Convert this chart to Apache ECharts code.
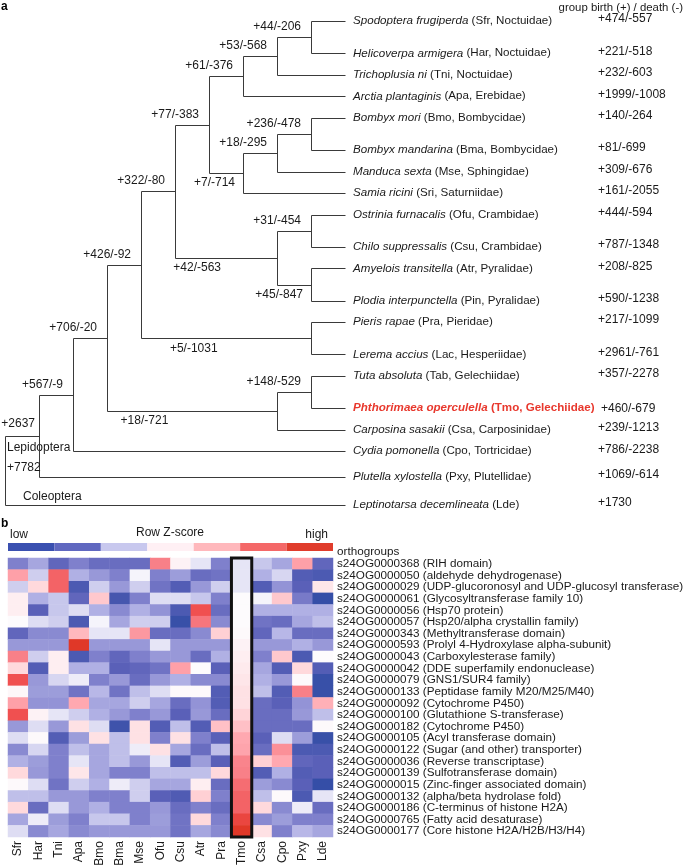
<!DOCTYPE html>
<html><head><meta charset="utf-8">
<script src="https://cdn.jsdelivr.net/npm/echarts/dist/echarts.min.js"></script>
<style>html,body{margin:0;padding:0;background:#fff}#c{width:685px;height:867px}</style>
</head><body><div id="c"></div>
<script>
// ---------------- DATA: panel a (tree) ----------------
const leafCodes = ['Sfr','Har','Tni','Apa','Bmo','Bma','Mse','Sri','Ofu','Csu','Atr','Pin','Pra','Lac','Tab','Tmo','Csa','Cpo','Pxy','Lde'];
const leafBinomials = ['Spodoptera frugiperda','Helicoverpa armigera','Trichoplusia ni','Arctia plantaginis','Bombyx mori','Bombyx mandarina','Manduca sexta','Samia ricini','Ostrinia furnacalis','Chilo suppressalis','Amyelois transitella','Plodia interpunctella','Pieris rapae','Lerema accius','Tuta absoluta','Phthorimaea operculella','Carposina sasakii','Cydia pomonella','Plutella xylostella','Leptinotarsa decemlineata'];
const leafFamilies = ['Noctuidae','Noctuidae','Noctuidae','Erebidae','Bombycidae','Bombycidae','Sphingidae','Saturniidae','Crambidae','Crambidae','Pyralidae','Pyralidae','Pieridae','Hesperiidae','Gelechiidae','Gelechiidae','Carposinidae','Tortricidae','Plutellidae',null];
const leafGainLoss = ['+474/-557','+221/-518','+232/-603','+1999/-1008','+140/-264','+81/-699','+309/-676','+161/-2055','+444/-594','+787/-1348','+208/-825','+590/-1238','+217/-1099','+2961/-761','+357/-2278','+460/-679','+239/-1213','+786/-2238','+1069/-614','+1730'];
const focusLeaf = 'Tmo';

const nodeIds      = ['root','Lepi','A','B','C','D','E','N1','N2','N3','BO','BO2','BO3','PY','CR','PYR','PL','G','GE'];
const nodeDepths   = [0,1,2,3,4,5,6,7,8,9,7,8,9,8,9,9,9,8,9];
const nodeChildren = [['Lepi','Lde'],['A','Pxy'],['B','Cpo'],['C','G'],['D','PL'],['E','PY'],['N1','BO'],['N2','Apa'],['N3','Tni'],['Sfr','Har'],['BO2','Sri'],['BO3','Mse'],['Bmo','Bma'],['CR','PYR'],['Ofu','Csu'],['Atr','Pin'],['Pra','Lac'],['GE','Csa'],['Tab','Tmo']];
const nodeGainLoss = ['+7782','+2637','+567/-9','+706/-20','+426/-92','+322/-80','+77/-383','+61/-376','+53/-568','+44/-206','+7/-714','+18/-295','+236/-478','+42/-563','+31/-454','+45/-847','+5/-1031','+18/-721','+148/-529'];
const leafDepth = 10;

// ---------------- DATA: panel b (heatmap) ----------------
const heatCols = ['Sfr','Har','Tni','Apa','Bmo','Bma','Mse','Ofu','Csu','Atr','Pra','Tmo','Csa','Cpo','Pxy','Lde'];
const ogIds = ['s24OG0000368','s24OG0000050','s24OG0000029','s24OG0000061','s24OG0000056','s24OG0000057','s24OG0000343','s24OG0000593','s24OG0000043','s24OG0000042','s24OG0000079','s24OG0000133','s24OG0000092','s24OG0000100','s24OG0000182','s24OG0000105','s24OG0000122','s24OG0000036','s24OG0000139','s24OG0000015','s24OG0000132','s24OG0000186','s24OG0000765','s24OG0000177'];
const ogDesc = ['RIH domain','aldehyde dehydrogenase','UDP-glucoronosyl and UDP-glucosyl transferase','Glycosyltransferase family 10','Hsp70 protein','Hsp20/alpha crystallin family','Methyltransferase domain','Prolyl 4-Hydroxylase alpha-subunit','Carboxylesterase family','DDE superfamily endonuclease','GNS1/SUR4 family','Peptidase family M20/M25/M40','Cytochrome P450','Glutathione S-transferase','Cytochrome P450','Acyl transferase domain','Sugar (and other) transporter','Reverse transcriptase','Sulfotransferase domain','Zinc-finger associated domain','alpha/beta hydrolase fold','C-terminus of histone H2A','Fatty acid desaturase','Core histone H2A/H2B/H3/H4'];
const zScores = [
 [-1,-0.6,-1.4,-1,-1.3,-1.3,-1.3,1.5,0.1,-0.15,-1,-0.15,-0.35,-0.6,1.1,-1.4],
 [1.1,-0.3,1.8,-0.5,-0.75,-1.0,-0.05,-1,-0.7,-1.3,-1.2,-0.15,-0.5,-0.25,-1.6,-1.7],
 [-0.3,0.4,1.8,-1.7,-0.3,-0.75,-0.3,-1.2,-1.6,-0.75,-0.3,-0.15,-1.6,-0.8,-1.5,0.25],
 [0.15,-0.5,-0.35,-1.4,0.6,-1.8,-1.0,-0.2,-0.2,-0.35,-1.0,0,-0.05,0.6,-1.1,-2.1],
 [0.15,-1.5,-0.35,-0.2,-0.5,-0.9,-0.5,-0.8,-1.7,2.0,-1.3,0,-0.5,-0.5,-0.5,-0.5],
 [0,-0.2,-0.3,-1.7,-0.05,-0.6,-0.3,-0.3,-2.0,1.6,-0.9,0,-1.2,-1.3,-0.6,-0.4],
 [-1.4,-0.9,-0.9,0.8,-0.15,-0.15,1.2,-1.3,-1.3,-0.9,0.5,0.02,-1.4,-0.45,-1.3,-1.3],
 [-0.75,-0.75,-0.75,2.6,-0.75,-0.75,-0.75,-0.15,-0.75,-0.75,-0.75,0.1,-0.75,-0.75,-0.5,-0.75],
 [1.5,-0.3,0.15,-1.7,-1.0,-1.4,-1.0,-0.75,-0.75,-1.3,-0.5,0.15,-1.0,0.6,-1.7,0],
 [0.4,-1.6,0.15,-0.5,-0.5,-1.5,-1.4,-1.2,1.1,0,-1.5,0.2,-0.6,-1.6,0.4,-1.6],
 [2.0,-0.75,-0.25,-0.1,-1.0,-0.75,-1.3,-0.75,-0.5,-0.9,-0.9,0.25,-0.5,-0.75,0.02,-2.0],
 [0.05,-0.7,-0.7,-1.2,-0.45,-1.2,-0.4,-0.2,0.02,0.02,-1.6,0.3,-0.4,-1.6,1.5,-2.0],
 [1.1,-0.8,-0.8,1.0,-0.6,-0.6,-0.3,-0.6,-1.3,-0.8,-1.6,0.3,-1.3,-1.5,-0.8,0.9],
 [2.0,0.1,-0.15,-0.3,-0.5,-0.75,-1.0,-0.75,-1.5,-0.75,-1.3,0.45,-1.3,-1.3,-0.75,-0.4],
 [-0.75,-0.2,-0.75,0.3,-0.2,-1.9,0.3,-1.6,-0.4,-1.6,0.7,0.7,-1.3,-1.3,-1.3,0.02],
 [-0.2,0.02,-1.6,-0.7,0.3,-0.4,0.3,-1.0,0.3,-1.0,-1.5,1.0,-1.5,-0.2,-0.7,-2.0],
 [-0.9,-0.25,-1.0,-0.4,-0.6,-0.4,-0.1,0.3,-0.6,-1.3,-0.4,1.05,-1.3,1.3,-1.7,-1.7],
 [-0.5,-0.7,-1.0,-0.15,-0.6,-0.4,-0.75,-0.15,-1.6,-0.7,-1.5,1.45,0.5,1.0,-1.4,-1.5],
 [0.4,-0.75,-1.0,0.25,-0.6,-1.0,-1.0,-0.4,-0.4,-0.4,0.4,1.5,-1.6,-0.5,-1.6,-1.5],
 [0.02,-0.2,-1.2,-0.3,-0.5,-0.1,-0.3,-0.6,-0.6,0.15,-1.3,1.7,-0.7,-0.9,-1.5,-2.1],
 [-0.4,-0.4,-0.75,-0.75,-1.0,-1.0,-0.3,-1.5,-1.65,0.5,-1.0,1.8,-0.4,0.02,-1.7,-0.15],
 [0.4,-1.3,-0.2,-0.75,-0.5,-1.0,-1.0,-0.75,-1.3,-1.0,-1.3,1.8,0.4,-0.9,-0.1,-1.3],
 [-0.6,-0.1,-0.7,-1.0,-0.35,-0.35,-1.0,-0.7,-1.2,0.4,-1.0,2.2,-0.9,-0.7,-1.0,-1.0],
 [-0.2,-0.9,-0.6,-0.9,-0.75,-0.75,-0.75,-0.75,-1.2,-0.6,-0.9,2.6,0.3,-1.0,-0.45,-0.6]
];
const zLegendColors = ['#3a50b0','#6068c0','#c8c8ee','#fff0f4','#ffb8bc','#f46868','#e03c2c'];
const zRampColors = ['#2a48a4','#3850a8','#5a60b8','#7f80cc','#b0b0e4','#fdfbfd','#ffd0d4','#ffa8b0','#f88088','#f05050','#e03828'];

// ---------------- LAYOUT / STYLE ----------------
const FONT = '"Liberation Sans", Arial, sans-serif';
const TXT = '#1a1a1a';
const LINE = '#3a3a3a';
const SPECIES_FS = 11.6, ROW_FS = 11.7, NUM_FS = 12;
const nodeLabelLayout = {
  root: {align:'left', dx:2, dy:-3},
  Lepi: {align:'right', dx:-4, dy:-12},
  BO:   {align:'right', dx:-8, dy:10},
  PYR:  {align:'right', dx:-8, dy:10},
  PY:   {at:4.95, dy:10},
  PL:   {at:4.85, dy:10},
  G:    {at:3.4, dy:10}
};
const defaultNodeLabel = {align:'right', dx:-10, dy:-10};

// ---------------- TREE LAYOUT ----------------
const parentOf = {}, depthOf = {};
nodeIds.forEach((id, i) => { depthOf[id] = nodeDepths[i]; nodeChildren[i].forEach(c => parentOf[c] = id); });
const pos = {};
let yAcc = 0;
leafCodes.forEach((c, i) => {
  if (i > 0) {
    const p = parentOf[c];
    if (parentOf[leafCodes[i-1]] === p) yAcc += 1.5;
    else if (depthOf[p] <= 1) yAcc += 1.3 - 0.1 * depthOf[p];
    else yAcc += 1;
  }
  pos[c] = [leafDepth, yAcc];
});
const yMax = yAcc;
function place(id) {
  if (pos[id]) return pos[id];
  const i = nodeIds.indexOf(id);
  const ch = nodeChildren[i].map(place);
  pos[id] = [nodeDepths[i], (ch[0][1] + ch[ch.length-1][1]) / 2];
  return pos[id];
}
place('root');
const segments = [];
nodeIds.forEach((id, i) => {
  const d = nodeDepths[i];
  const ch = nodeChildren[i].map(c => pos[c]);
  segments.push([d, ch[0][1], d, ch[ch.length-1][1]]);
  ch.forEach(cp => segments.push([d, cp[1], cp[0], cp[1]]));
});
const snap = v => Math.round(v) + 0.5;

const heatData = [];
zScores.forEach((row, r) => row.forEach((v, c) => heatData.push([c, r, v])));
const rowLabels = ogIds.map((id, i) => id + ' (' + ogDesc[i] + ')');

const chart = echarts.init(document.getElementById('c'), null, {renderer: 'canvas'});
chart.setOption({
  animation: false,
  textStyle: {fontFamily: FONT, fontSize: 12, color: TXT},
  grid: [
    {left: 5, top: 21, width: 340, height: 484, outerBoundsMode: 'none'},
    {left: 8, top: 558, width: 325, height: 279, outerBoundsMode: 'none'},
    {left: 8, top: 543, width: 325, height: 8, outerBoundsMode: 'none'}
  ],
  xAxis: [
    {gridIndex: 0, type: 'value', min: 0, max: leafDepth, show: false},
    {gridIndex: 1, type: 'category', data: heatCols, axisLine: {show: false}, axisTick: {show: false},
     axisLabel: {interval: 0, rotate: 90, margin: 4, fontSize: 12, color: TXT, fontFamily: FONT}},
    {gridIndex: 2, type: 'value', min: 0, max: zLegendColors.length, show: false}
  ],
  yAxis: [
    {gridIndex: 0, type: 'value', min: 0, max: yMax, inverse: true, show: false},
    {gridIndex: 1, type: 'category', data: rowLabels, inverse: true, position: 'right',
     axisLine: {show: false}, axisTick: {show: false},
     axisLabel: {interval: 0, margin: 4, fontSize: ROW_FS, color: TXT, fontFamily: FONT}},
    {gridIndex: 2, type: 'category', data: ['z'], show: false}
  ],
  visualMap: [{
    type: 'continuous', show: false, seriesIndex: 3, min: -2.5, max: 2.5, dimension: 2,
    inRange: {color: zRampColors}
  }],
  graphic: [
    {type: 'text', x: 1, y: 7, style: {text: 'a', font: 'bold 12px ' + FONT, fill: '#000', verticalAlign: 'middle'}},
    {type: 'text', x: 683, y: 8, style: {text: 'group birth (+) / death (-)', font: '11.4px ' + FONT, fill: TXT, align: 'right', verticalAlign: 'middle'}},
    {type: 'text', x: 7, y: 448, style: {text: 'Lepidoptera', font: '12px ' + FONT, fill: TXT, verticalAlign: 'middle'}},
    {type: 'text', x: 23, y: 497, style: {text: 'Coleoptera', font: '12px ' + FONT, fill: TXT, verticalAlign: 'middle'}},
    {type: 'text', x: 1, y: 524, style: {text: 'b', font: 'bold 12px ' + FONT, fill: '#000', verticalAlign: 'middle'}},
    {type: 'text', x: 10, y: 535, style: {text: 'low', font: '12px ' + FONT, fill: TXT, verticalAlign: 'middle'}},
    {type: 'text', x: 170, y: 533, style: {text: 'Row Z-score', font: '12px ' + FONT, fill: TXT, align: 'center', verticalAlign: 'middle'}},
    {type: 'text', x: 328, y: 535, style: {text: 'high', font: '12px ' + FONT, fill: TXT, align: 'right', verticalAlign: 'middle'}},
    {type: 'text', x: 337, y: 552, style: {text: 'orthogroups', font: '11.7px ' + FONT, fill: TXT, verticalAlign: 'middle'}}
  ],
  series: [
    { // tree branches
      type: 'custom', xAxisIndex: 0, yAxisIndex: 0, coordinateSystem: 'cartesian2d',
      data: segments, encode: {x: [0, 2], y: [1, 3]}, silent: true,
      renderItem: (params, api) => {
        const p1 = api.coord([api.value(0), api.value(1)]);
        const p2 = api.coord([api.value(2), api.value(3)]);
        return {type: 'line', shape: {x1: snap(p1[0]), y1: snap(p1[1]), x2: snap(p2[0]), y2: snap(p2[1])},
                style: {stroke: LINE, lineWidth: 1}};
      }
    },
    { // leaf labels + gain/loss
      type: 'custom', xAxisIndex: 0, yAxisIndex: 0, coordinateSystem: 'cartesian2d',
      data: leafCodes.map((c, i) => [pos[c][0], pos[c][1], i]), encode: {x: 0, y: 1}, silent: true,
      renderItem: (params, api) => {
        const i = api.value(2);
        const p = api.coord([api.value(0), api.value(1)]);
        const code = leafCodes[i];
        const focus = code === focusLeaf;
        const col = focus ? '#e8382d' : TXT;
        const fw = focus ? 'bold' : 'normal';
        const fam = leafFamilies[i];
        const paren = fam ? ' (' + code + ', ' + fam + ')' : ' (' + code + ')';
        return {type: 'group', children: [
          {type: 'text', x: p[0] + 8, y: p[1], style: {
            text: '{i|' + leafBinomials[i] + '}{n|' + paren + '}',
            rich: {
              i: {fontStyle: 'italic', fontWeight: fw, fontSize: SPECIES_FS, fontFamily: FONT, fill: col, color: col},
              n: {fontWeight: fw, fontSize: SPECIES_FS, fontFamily: FONT, fill: col, color: col}
            },
            fill: col, align: 'left', verticalAlign: 'middle'}},
          {type: 'text', x: focus ? 601 : 598, y: p[1] - (focus ? 0 : 2), style: {
            text: leafGainLoss[i], font: NUM_FS + 'px ' + FONT, fill: TXT, align: 'left', verticalAlign: 'middle'}}
        ]};
      }
    },
    { // internal node labels
      type: 'custom', xAxisIndex: 0, yAxisIndex: 0, coordinateSystem: 'cartesian2d',
      data: nodeIds.map((id, i) => [pos[id][0], pos[id][1], i]), encode: {x: 0, y: 1}, silent: true,
      renderItem: (params, api) => {
        const i = api.value(2);
        const id = nodeIds[i];
        const lay = nodeLabelLayout[id] || defaultNodeLabel;
        const p = api.coord([api.value(0), api.value(1)]);
        let x, align;
        if (lay.at !== undefined) { x = api.coord([lay.at, 0])[0]; align = 'left'; }
        else { x = p[0] + lay.dx; align = lay.align; }
        return {type: 'text', x: x, y: p[1] + lay.dy, style: {
          text: nodeGainLoss[i], font: NUM_FS + 'px ' + FONT, fill: TXT, align: align, verticalAlign: 'middle'}};
      }
    },
    { // heatmap
      type: 'heatmap', xAxisIndex: 1, yAxisIndex: 1, data: heatData, silent: true,
      itemStyle: {borderWidth: 0}
    },
    { // highlight box around focus column
      type: 'custom', xAxisIndex: 1, yAxisIndex: 1, coordinateSystem: 'cartesian2d', silent: true, z: 10,
      data: [[heatCols.indexOf(focusLeaf), 0, ogIds.length - 1]], encode: {x: 0, y: [1, 2]},
      renderItem: (params, api) => {
        const a = api.coord([api.value(0), api.value(1)]);
        const b = api.coord([api.value(0), api.value(2)]);
        const s = api.size([1, 1]);
        const top = Math.min(a[1], b[1]) - s[1] / 2;
        const bot = Math.max(a[1], b[1]) + s[1] / 2;
        return {type: 'rect', shape: {x: a[0] - s[0] / 2, y: top, width: s[0], height: bot - top},
                style: {fill: 'none', stroke: '#111', lineWidth: 3}};
      }
    }
  ].concat(zLegendColors.map(c => ({
    type: 'bar', xAxisIndex: 2, yAxisIndex: 2, stack: 'legend', data: [1], barWidth: '100%',
    itemStyle: {color: c}, silent: true
  })))
});
</script>
</body></html>
